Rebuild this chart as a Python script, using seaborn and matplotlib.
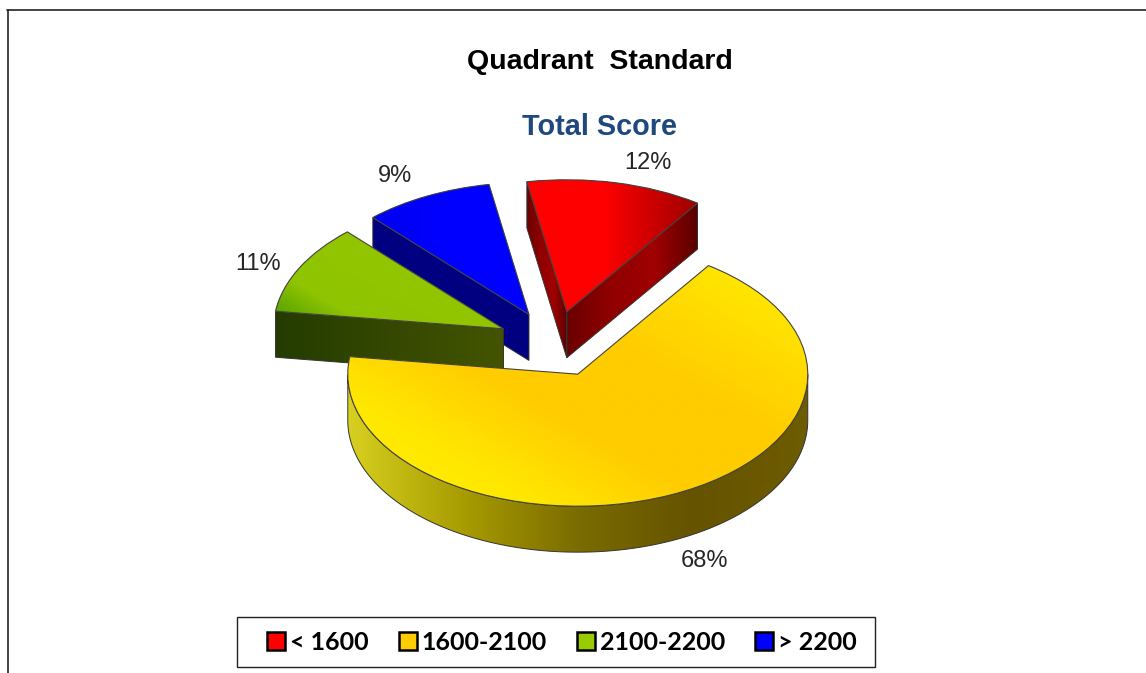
import numpy as np
import seaborn as sns
import matplotlib
matplotlib.use("Agg")
import matplotlib.pyplot as plt
from matplotlib.colors import LinearSegmentedColormap
from matplotlib.patches import Patch, Polygon, Wedge, Rectangle

# ---- data
categories = ["< 1600", "1600-2100", "2100-2200", "> 2200"]
shares = [12.4, 67.5, 11.0, 9.1]
share_labels = ["12%", "68%", "11%", "9%"]
title_main = "Quadrant  Standard"
title_sub = "Total Score"

# ---- style
base_colors = ["#ff0000", "#ffcc00", "#99cc00", "#0000ff"]
top_ramps = [[(0, "#ff0000"), (0.58, "#ff0000"), (0.78, "#a00000"), (1, "#800000")],
             [(0, "#fff000"), (0.2, "#ffe800"), (0.4, "#ffcc00"), (0.6, "#ffcc00"),
              (0.8, "#ffe000"), (1, "#fff500")],
             [(0, "#2f8a00"), (0.27, "#4f9e00"), (0.36, "#8fc400"), (1, "#99cc00")],
             [(0, "#0000e0"), (0.3, "#0000ff"), (1, "#0000ff")]]
top_dirs = [0, 45, 45, 0]
wall_ramps = [["#6a0000", "#900000", "#a00000", "#5a0000"],
              ["#d8d020", "#a89c00", "#7a6c00", "#665300", "#6e5c00"],
              ["#243c00", "#445400"],
              ["#000080", "#000080"]]
stack_rank = [1, 4, 3, 2]     # painter's order: red, blue, green, yellow
EXPLODE_FRAC = 0.25
WIDTH, HEIGHT = 1146, 673
SQUASH = 132 / 230           # vertical foreshortening of the pie plane
RADIUS = 230
DEPTH = 46 / SQUASH
CENTER = (554.5, (HEIGHT - 344) / SQUASH)
label_pos = [(648, 163), (705, 561), (258, 264), (395, 176)]

sns.set_theme(style="white")
plt.rcParams["font.family"] = ["Liberation Sans", "DejaVu Sans"]

fig = plt.figure(figsize=(WIDTH / 100, HEIGHT / 100), dpi=100, facecolor="white")
ax = fig.add_axes([0, 0, 1, 1])

wedges, _ = ax.pie(shares, explode=[EXPLODE_FRAC * RADIUS] * len(shares), startangle=100,
                   counterclock=False, radius=RADIUS, center=CENTER,
                   colors=sns.color_palette(base_colors),
                   wedgeprops=dict(linewidth=0), frame=True)
ax.set_aspect("auto")
xlim, ylim = (0, WIDTH), (0, HEIGHT / SQUASH)
ax.set_xlim(xlim)
ax.set_ylim(ylim)
ax.axis("off")


def ramp(colors):
    return LinearSegmentedColormap.from_list("r", colors)


def edge_pt(w, ang):
    a = np.deg2rad(ang)
    return np.array([w.center[0] + w.r * np.cos(a), w.center[1] + w.r * np.sin(a)])


def draw_face(points, cmap, z):
    pts = np.asarray(points)
    grad = np.linspace(0, 1, 256)[None, :]
    x0, x1 = pts[:, 0].min(), pts[:, 0].max()
    y0, y1 = pts[:, 1].min(), pts[:, 1].max()
    poly = Polygon(pts, closed=True, facecolor="none", edgecolor="#333333",
                   linewidth=0.7, zorder=z + 1)
    ax.add_patch(poly)
    im = ax.imshow(grad, extent=(x0, x1, y0, y1), cmap=cmap, vmin=0, vmax=1,
                   aspect="auto", zorder=z, interpolation="bilinear")
    im.set_clip_path(poly)


for k, w in enumerate(wedges):
    z = 10 * stack_rank[k]
    w.set_zorder(z + 4)
    wall = ramp(wall_ramps[k])
    down = np.array([0, -DEPTH])
    # radial cut faces that look toward the viewer
    for ang, visible in ((w.theta2, np.cos(np.deg2rad(w.theta2)) < 0),
                         (w.theta1, np.cos(np.deg2rad(w.theta1)) > 0)):
        if visible and k != 1:
            p_o = edge_pt(w, ang)
            p_c = np.array(w.center)
            draw_face([p_o, p_c, p_c + down, p_o + down], wall, z + 1)
    # outer rim, front half only
    angs = np.linspace(w.theta1, w.theta2, 400)
    angs = angs[np.sin(np.deg2rad(angs)) <= 0.0]
    if len(angs) > 1:
        pts = np.array([edge_pt(w, a) for a in angs])
        draw_face(np.vstack([pts, (pts + down)[::-1]]), wall, z + 1)
    # top surface with a soft directional gradient
    r = w.r
    cx, cy = w.center
    u, v = np.meshgrid(np.linspace(0, 1, 300), np.linspace(0, 1, 300))
    c, s = np.cos(np.deg2rad(top_dirs[k])), np.sin(np.deg2rad(top_dirs[k]))
    t = (u * c + v * s) / (c + s)
    im = ax.imshow(t, extent=(cx - r, cx + r, cy - r, cy + r), origin="lower",
                   cmap=ramp(top_ramps[k]), vmin=0, vmax=1,
                   aspect="auto", zorder=z + 5, interpolation="bilinear")
    im.set_clip_path(w)
    ax.add_patch(Wedge(w.center, r, w.theta1, w.theta2, fill=False,
                       edgecolor="#444444", linewidth=0.8, zorder=z + 6))

ax.set_xlim(xlim)
ax.set_ylim(ylim)


# ---- text
def px(x, y):
    return x, (HEIGHT - y) / SQUASH


for txt, pos in zip(share_labels, label_pos):
    ax.text(*px(*pos), txt, ha="center", va="center", fontsize=17,
            color="#262626", zorder=100)
ax.text(*px(600, 62), title_main, ha="center", va="center", fontsize=20.5,
        fontweight="bold", color="black", zorder=100)
ax.text(*px(600, 127), title_sub, ha="center", va="center", fontsize=20.8,
        fontweight="bold", color="#1f497d", zorder=100)

# ---- legend
handles = [Patch(facecolor=c, edgecolor="black", linewidth=1.8) for c in base_colors]
leg = ax.legend(handles, categories, ncol=4, loc="center", frameon=False,
                bbox_to_anchor=(562 / WIDTH, 1 - 642 / HEIGHT),
                borderpad=0, columnspacing=1.2, handlelength=0.72,
                handleheight=0.72, handletextpad=0.2, labelcolor="black",
                prop=dict(family="Lato", weight="bold", size=18))
leg.set_zorder(100)
fig.add_artist(Rectangle((237 / WIDTH, 1 - 667 / HEIGHT), 638 / WIDTH, 50 / HEIGHT,
                         transform=fig.transFigure, fill=False, edgecolor="#222222", linewidth=1.0))

# ---- outer frame, left and top sides
fig.add_artist(plt.Line2D([7.5 / WIDTH, 7.5 / WIDTH], [0, 1 - 9.5 / HEIGHT], color="#222222", lw=1.2))
fig.add_artist(plt.Line2D([7 / WIDTH, 1], [1 - 9.5 / HEIGHT] * 2, color="#222222", lw=1.2))

fig.savefig("out.png", dpi=100)
